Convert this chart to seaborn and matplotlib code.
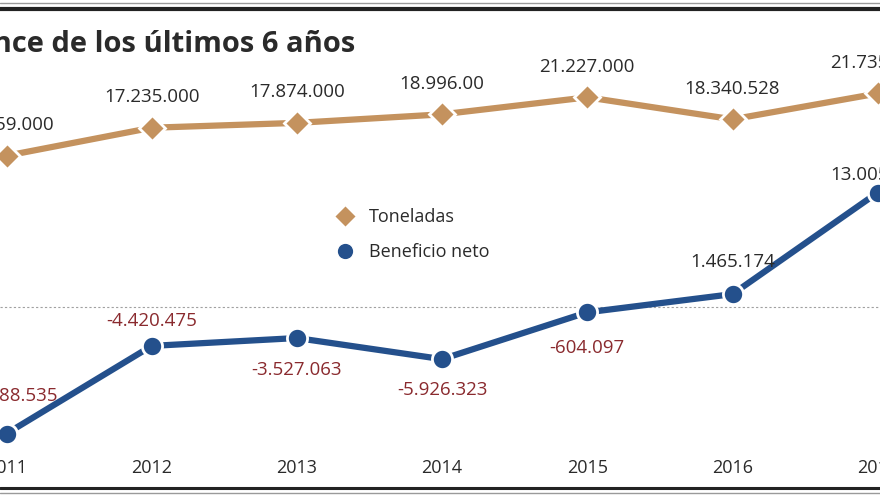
import matplotlib
matplotlib.use("Agg")
import matplotlib.pyplot as plt
from matplotlib.lines import Line2D
from matplotlib import font_manager
import seaborn as sns
import pandas as pd

# ---- data ----
years = [2011, 2012, 2013, 2014, 2015, 2016, 2017]
toneladas = [13559000, 17235000, 17874000, 18996000, 21227000, 18340528, 21735000]
beneficio = [-14388535, -4420475, -3527063, -5926323, -604097, 1465174, 13005000]
ton_labels = ["13.559.000", "17.235.000", "17.874.000", "18.996.00",
              "21.227.000", "18.340.528", "21.735.000"]
ben_labels = ["-14.388.535", "-4.420.475", "-3.527.063", "-5.926.323",
              "-604.097", "1.465.174", "13.005.000"]
title = "Balance de los últimos 6 años"
legend_labels = ["Toneladas", "Beneficio neto"]

# label offsets (points) for the beneficio labels
ben_offsets = [27, 18, -23, -22, -26, 23, 13]

TAN = "#C4925E"
NAVY = "#24508C"
RED = "#8A2A2E"
DARK = "#2A2A2A"

sns.set_style("white")
plt.rcParams["font.family"] = ["Open Sans", "DejaVu Sans"]

installed = {f.name for f in font_manager.fontManager.ttflist}
title_family = ["Liberation Sans Narrow", "Open Sans", "DejaVu Sans"] \
    if "Liberation Sans Narrow" in installed else ["Open Sans", "DejaVu Sans"]
title_size = 25 if "Liberation Sans Narrow" in installed else 21

W, H = 880, 495
fig = plt.figure(figsize=(W / 100, H / 100), dpi=100)
ax_bottom_px = 455
ax = fig.add_axes([0, (H - ax_bottom_px) / H, 1, ax_bottom_px / H])
ax2 = ax.twinx()

df = pd.DataFrame({"year": years, "ton": [v / 1e6 for v in toneladas],
                   "ben": [v / 1e6 for v in beneficio]})

# beneficio on ax (zero line at px 307, 8.8 px per million)
sns.lineplot(data=df, x="year", y="ben", ax=ax, color=NAVY, linewidth=4.5,
             marker="o", markersize=14.5, markeredgecolor="white",
             markeredgewidth=2, markerfacecolor=NAVY, zorder=3)
ax.axhline(0, color="#a0a0a0", linestyle=(0, (2, 2)), linewidth=0.8, zorder=1)
ax.set_ylim(-(ax_bottom_px - 307) / 8.8, 307 / 8.8)

# toneladas on ax2
sns.lineplot(data=df, x="year", y="ton", ax=ax2, color=TAN, linewidth=4.5,
             marker="D", markersize=13.5, markeredgecolor="white",
             markeredgewidth=2, markerfacecolor=TAN, zorder=3)
ax2.set_ylim(19.235 - (ax_bottom_px - 112.5) / 7.62, 19.235 + 112.5 / 7.62)

step = 145.2
x0 = 2011 - 6.5 / step
ax.set_xlim(x0, x0 + W / step)
ax2.set_xlim(x0, x0 + W / step)

for a in (ax, ax2):
    for s in a.spines.values():
        s.set_visible(False)
    a.set_xlabel("")
    a.set_ylabel("")
    a.set_yticks([])
    a.patch.set_visible(False)
ax.set_xticks(years)
ax.set_xticklabels([str(y) for y in years])
ax.tick_params(axis="x", length=0, pad=3, labelsize=13, labelcolor=DARK)
ax2.tick_params(axis="x", length=0, labelbottom=False)

# value labels
for x, v, lab in zip(years, df["ton"], ton_labels):
    ax2.annotate(lab, (x, v), xytext=(0, 22), textcoords="offset points",
                 ha="center", va="center", fontsize=13.5, color=DARK)
for x, v, lab, off in zip(years, df["ben"], ben_labels, ben_offsets):
    col = RED if v < 0 else DARK
    ax.annotate(lab, (x, v), xytext=(0, off), textcoords="offset points",
                ha="center", va="center", fontsize=13.5, color=col)

# legend
handles = [Line2D([], [], linestyle="none", marker="D", markersize=11,
                  color=TAN, markeredgecolor="white"),
           Line2D([], [], linestyle="none", marker="o", markersize=12,
                  color=NAVY, markeredgecolor="white")]
fig.legend(handles, legend_labels, loc="upper left",
           bbox_to_anchor=(311 / W, 1 - 192 / H), frameon=False,
           fontsize=13, labelspacing=0.95, handletextpad=0.3,
           labelcolor=DARK)

# title
fig.text(355 / W, 1 - 52 / H, title, ha="right", va="baseline",
         fontsize=title_size, fontweight="bold", color=DARK,
         family=title_family)

# frame rules
fig.add_artist(Line2D([0, 1], [1 - 2.5 / H] * 2, color="#9a9a9a", linewidth=1))
fig.add_artist(Line2D([0, 1], [1 - 9 / H] * 2, color="#222222", linewidth=3))
fig.add_artist(Line2D([0, 1], [1 - 488 / H] * 2, color="#222222", linewidth=2.2))
fig.add_artist(Line2D([0, 1], [1 - 493 / H] * 2, color="#9a9a9a", linewidth=1))

fig.savefig("out.png", dpi=100)
